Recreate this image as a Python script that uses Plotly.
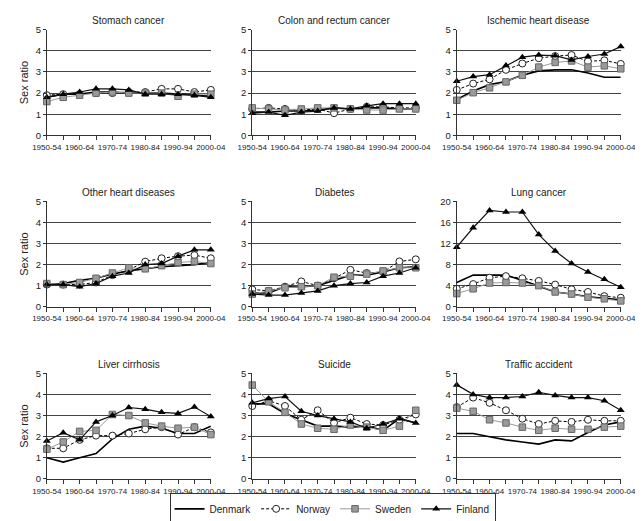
import plotly.graph_objects as go

periods = ["1950-54", "1955-59", "1960-64", "1965-69", "1970-74", "1975-79",
           "1980-84", "1985-89", "1990-94", "1995-99", "2000-04"]
tick_labels = ["1950-54", "", "1960-64", "", "1970-74", "", "1980-84", "", "1990-94", "", "2000-04"]

countries = ["Denmark", "Norway", "Sweden", "Finland"]
panel_titles = ["Stomach cancer", "Colon and rectum cancer", "Ischemic heart disease",
                "Other heart diseases", "Diabetes", "Lung cancer",
                "Liver cirrhosis", "Suicide", "Traffic accident"]

stomach_denmark = [1.8, 1.95, 1.95, 2.05, 2.05, 2.0, 2.0, 2.0, 1.95, 1.9, 1.85]
stomach_norway = [1.9, 1.95, 1.95, 2.0, 2.0, 2.05, 2.05, 2.2, 2.2, 2.05, 2.15]
stomach_sweden = [1.6, 1.8, 1.9, 2.0, 2.05, 2.0, 2.0, 2.0, 1.85, 1.95, 1.95]
stomach_finland = [1.8, 1.95, 2.05, 2.2, 2.2, 2.15, 1.95, 1.95, 1.95, 1.9, 1.8]

colon_denmark = [1.1, 1.1, 1.15, 1.15, 1.2, 1.3, 1.25, 1.3, 1.3, 1.25, 1.25]
colon_norway = [1.25, 1.3, 1.25, 1.2, 1.25, 1.05, 1.25, 1.35, 1.35, 1.3, 1.3]
colon_sweden = [1.3, 1.25, 1.2, 1.25, 1.3, 1.3, 1.25, 1.2, 1.2, 1.25, 1.25]
colon_finland = [1.05, 1.1, 0.95, 1.1, 1.15, 1.3, 1.25, 1.4, 1.5, 1.5, 1.5]

ihd_denmark = [1.7, 2.1, 2.4, 2.55, 2.85, 3.05, 3.1, 3.1, 2.95, 2.75, 2.75]
ihd_norway = [2.15, 2.45, 2.65, 3.1, 3.4, 3.65, 3.75, 3.8, 3.5, 3.55, 3.38]
ihd_sweden = [1.66, 2.02, 2.25, 2.53, 2.84, 3.23, 3.45, 3.52, 3.23, 3.29, 3.15]
ihd_finland = [2.56, 2.78, 2.87, 3.3, 3.7, 3.8, 3.77, 3.57, 3.73, 3.85, 4.2]

ohd_denmark = [1.05, 1.1, 1.25, 1.35, 1.55, 1.7, 1.8, 1.9, 1.95, 2.0, 2.1]
ohd_norway = [1.05, 1.05, 1.05, 1.15, 1.5, 1.75, 2.14, 2.3, 2.4, 2.45, 2.3]
ohd_sweden = [1.1, 1.05, 1.15, 1.35, 1.6, 1.85, 1.8, 1.95, 2.1, 2.15, 2.05]
ohd_finland = [1.05, 1.05, 0.95, 1.1, 1.45, 1.6, 2.0, 2.05, 2.4, 2.7, 2.7]

diab_denmark = [0.65, 0.65, 0.95, 0.95, 1.0, 1.25, 1.5, 1.5, 1.65, 1.85, 1.9]
diab_norway = [0.82, 0.75, 0.95, 1.2, 1.0, 1.35, 1.75, 1.6, 1.65, 2.15, 2.25]
diab_sweden = [0.6, 0.75, 0.9, 0.95, 1.0, 1.4, 1.45, 1.55, 1.7, 1.85, 1.85]
diab_finland = [0.6, 0.55, 0.55, 0.65, 0.75, 1.0, 1.1, 1.15, 1.45, 1.6, 1.85]

lung_denmark = [4.6, 6.0, 6.0, 6.0, 5.0, 3.9, 2.8, 2.4, 1.9, 1.6, 1.3]
lung_norway = [3.4, 4.3, 5.5, 5.8, 5.4, 4.9, 4.2, 3.3, 2.8, 2.0, 1.7]
lung_sweden = [2.5, 3.4, 4.5, 4.6, 4.5, 4.0, 2.8, 2.4, 1.8, 1.5, 1.1]
lung_finland = [11.3, 15.0, 18.3, 18.0, 18.0, 13.7, 10.6, 8.2, 6.6, 5.2, 3.7]

liver_denmark = [1.0, 0.8, 1.0, 1.2, 1.9, 2.35, 2.5, 2.4, 2.15, 2.15, 2.5]
liver_norway = [1.45, 1.45, 1.85, 2.05, 2.05, 2.15, 2.35, 2.45, 2.1, 2.45, 2.2]
liver_sweden = [1.41, 1.75, 2.25, 2.3, 3.05, 3.0, 2.65, 2.5, 2.4, 2.45, 2.1]
liver_finland = [1.8, 2.19, 1.85, 2.7, 3.0, 3.38, 3.3, 3.15, 3.1, 3.4, 2.95]

suicide_denmark = [3.55, 3.55, 3.1, 2.8, 2.5, 2.5, 2.45, 2.5, 2.3, 2.85, 2.65]
suicide_norway = [3.45, 3.7, 3.45, 2.8, 3.25, 2.65, 2.9, 2.6, 2.55, 2.8, 3.05]
suicide_sweden = [4.44, 3.65, 3.15, 2.6, 2.4, 2.35, 2.55, 2.45, 2.3, 2.5, 3.25]
suicide_finland = [3.6, 3.8, 3.9, 3.2, 3.0, 2.85, 2.7, 2.4, 2.6, 2.85, 2.65]

traffic_denmark = [2.15, 2.15, 2.0, 1.85, 1.75, 1.65, 1.85, 1.8, 2.2, 2.55, 2.7]
traffic_norway = [3.4, 3.85, 3.6, 3.25, 2.85, 2.6, 2.75, 2.7, 2.8, 2.75, 2.75]
traffic_sweden = [3.35, 3.2, 2.8, 2.65, 2.45, 2.3, 2.4, 2.35, 2.35, 2.45, 2.5]
traffic_finland = [4.45, 4.0, 3.85, 3.85, 3.9, 4.1, 3.95, 3.85, 3.85, 3.7, 3.25]

panels = [
    [stomach_denmark, stomach_norway, stomach_sweden, stomach_finland],
    [colon_denmark, colon_norway, colon_sweden, colon_finland],
    [ihd_denmark, ihd_norway, ihd_sweden, ihd_finland],
    [ohd_denmark, ohd_norway, ohd_sweden, ohd_finland],
    [diab_denmark, diab_norway, diab_sweden, diab_finland],
    [lung_denmark, lung_norway, lung_sweden, lung_finland],
    [liver_denmark, liver_norway, liver_sweden, liver_finland],
    [suicide_denmark, suicide_norway, suicide_sweden, suicide_finland],
    [traffic_denmark, traffic_norway, traffic_sweden, traffic_finland],
]

W, H = 643, 521
col_px = [(25, 197), (240.5, 412), (455, 627)]
row_px = [(16, 124), (191.5, 299), (367, 475)]

styles = {
    "Denmark": dict(line=dict(color="black", width=1.6), mode="lines", marker=None),
    "Norway": dict(line=dict(color="black", width=1, dash="3px,2px"), mode="lines+markers",
                   marker=dict(symbol="circle", size=7, color="white", line=dict(color="#222", width=1))),
    "Sweden": dict(line=dict(color="#9a9a9a", width=1), mode="lines+markers",
                   marker=dict(symbol="square", size=6.5, color="#9a9a9a", line=dict(color="#666", width=1))),
    "Finland": dict(line=dict(color="#111", width=1.2), mode="lines+markers",
                    marker=dict(symbol="triangle-up", size=7, color="black", line=dict(color="black", width=0))),
}

FONT = "Liberation Sans"
fig = go.Figure()
layout = {}
annotations = []
xs = list(range(len(periods)))
for p in range(9):
    r, c = divmod(p, 3)
    idx = p + 1
    xa = f"x{idx}" if idx > 1 else "x"
    ya = f"y{idx}" if idx > 1 else "y"
    for ci, name in enumerate(countries):
        st = styles[name]
        kw = dict(x=xs, y=panels[p][ci], name=name, mode=st["mode"], line=st["line"],
                  xaxis=xa, yaxis=ya, showlegend=(p == 0), legendgroup=name, cliponaxis=False)
        if st["marker"] is not None:
            kw["marker"] = st["marker"]
        fig.add_trace(go.Scatter(**kw))
    x0, x1 = col_px[c]
    y0, y1 = row_px[r]
    is_lung = (p == 5)
    layout[f"xaxis{idx if idx > 1 else ''}"] = dict(
        domain=[x0 / W, x1 / W], anchor=ya, range=[0, 10],
        tickmode="array", tickvals=xs, ticktext=tick_labels, tickangle=0,
        ticks="outside", ticklen=4, tickcolor="#333", showline=True, linecolor="#333",
        linewidth=1, showgrid=False, zeroline=False,
        tickfont=dict(size=8, color="#222", family=FONT))
    layout[f"yaxis{idx if idx > 1 else ''}"] = dict(
        domain=[1 - y1 / H, 1 - y0 / H], anchor=xa,
        range=[0, 20] if is_lung else [0, 5],
        tickvals=[0, 4, 8, 12, 16, 20] if is_lung else [0, 1, 2, 3, 4, 5],
        ticks="outside", ticklen=3, tickcolor="#333", showline=True, linecolor="#333",
        linewidth=1, showgrid=True, gridcolor="#444", gridwidth=1, zeroline=False,
        tickfont=dict(size=9.5, color="#222", family=FONT),
        title=dict(text="Sex ratio" if c == 0 else "", font=dict(size=11, family=FONT, color="#222"),
                   standoff=4))
    annotations.append(dict(text=panel_titles[p], x=(x0 + x1) / 2 / W, y=1 - (y0 - 9) / H,
                            xref="paper", yref="paper", showarrow=False, xanchor="center", yanchor="middle",
                            font=dict(size=10, family=FONT, color="#222")))

fig.update_layout(**layout)
fig.update_layout(
    width=W, height=H, margin=dict(l=0, r=0, t=0, b=0),
    paper_bgcolor="white", plot_bgcolor="white",
    annotations=annotations,
    legend=dict(orientation="h", x=0.505, y=1 - 505.5 / H, xanchor="center", yanchor="middle",
                bordercolor="#333", borderwidth=1, font=dict(size=10, family=FONT, color="#222"),
                itemwidth=30, tracegroupgap=0),
)
fig.write_html("out.html")
